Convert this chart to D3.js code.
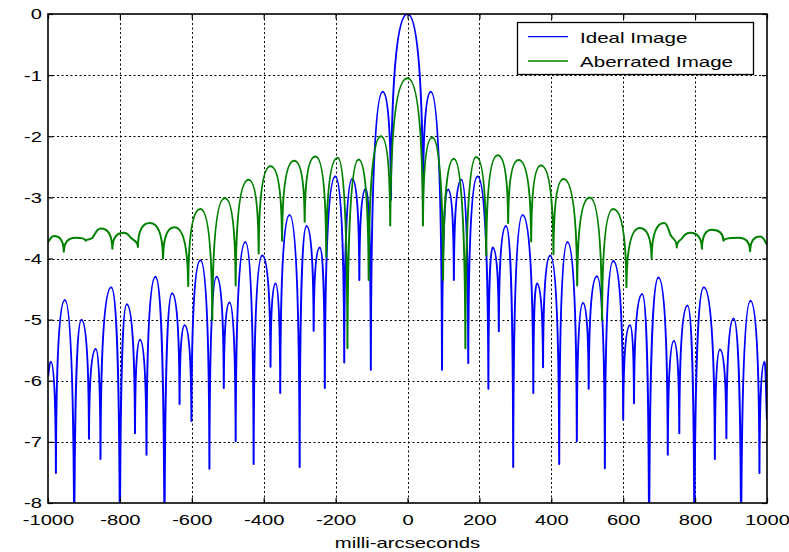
<!DOCTYPE html>
<html>
<head>
<meta charset="utf-8">
<script src="https://cdn.jsdelivr.net/npm/d3@7"></script>
<style>
  html, body { margin: 0; padding: 0; background: #fff; }
  svg { display: block; }
</style>
</head>
<body>
<script>
// ---------------- data ----------------
const ideal = [
  [-1000,-5.93],[-992,-5.69],[-978,-7.51],[-953,-4.68],[-927,-9],[-907,-5.0],[-886,-6.95],[-867,-5.48],
  [-854,-7.28],[-824,-4.47],[-800,-9],[-781,-4.75],[-758,-6.86],[-744,-5.33],[-726,-7.21],[-701,-4.30],
  [-676,-9],[-655,-4.57],[-634,-6.38],[-620,-5.09],[-601,-6.66],[-576,-4.03],[-551,-7.44],[-531,-4.30],
  [-511,-6.12],[-495,-4.72],[-478,-6.99],[-451,-3.73],[-428,-7.36],[-404,-3.95],[-381,-5.77],[-367,-4.41],
  [-354,-6.2],[-328,-3.29],[-300,-7.41],[-281,-3.47],[-261,-5.18],[-244,-3.82],[-230,-6.12],[-201,-2.66],
  [-176,-5.70],[-154,-2.70],[-134,-4.35],[-116,-2.86],[-102,-5.82],[-69,-1.27],[-46,-3.04],[0,0],
  [43,-3.04],[65,-1.27],[96,-5.82],[113,-2.87],[129,-4.35],[150,-2.71],[169,-5.71],[195,-2.66],
  [225,-6.13],[237,-3.82],[254,-5.19],[274,-3.47],[294,-7.41],[320,-3.29],[350,-6.2],[360,-4.41],
  [377,-5.78],[397,-3.95],[422,-7.36],[445,-3.73],[471,-6.99],[488,-4.73],[504,-6.13],[527,-4.29],
  [549,-7.43],[572,-4.04],[600,-6.64],[619,-5.09],[630,-6.37],[653,-4.58],[672,-9],[698,-4.31],
  [724,-7.21],[741,-5.35],[756,-6.86],[779,-4.77],[798,-9],[824,-4.47],[855,-7.28],[869,-5.49],
  [887,-6.94],[907,-4.98],[928,-9],[954,-4.69],[979,-7.51],[993,-5.69],[1000,-6.64]
];
const aberrated = [
  [-1000,-3.73],[-983,-3.63],[-956,-3.89],[-923,-3.66],[-895,-3.71],[-878,-3.67],[-853,-3.51],[-821,-3.84],
  [-789,-3.58],[-768,-3.67],[-750,-3.81],[-717,-3.42],[-680,-4.0],[-648,-3.49],[-610,-4.45],[-576,-3.19],
  [-543,-5.01],[-508,-3.01],[-478,-4.44],[-442,-2.71],[-414,-3.92],[-381,-2.49],[-349,-3.71],[-315,-2.40],
  [-286,-3.40],[-256,-2.33],[-226,-3.97],[-194,-2.35],[-167,-5.47],[-136,-2.38],[-108,-4.35],[-74,-2.0],
  [-48,-3.46],[0,-1.05],[43,-3.46],[69,-2.02],[99,-4.35],[129,-2.37],[161,-5.47],[191,-2.34],
  [219,-3.95],[251,-2.31],[280,-3.42],[309,-2.39],[344,-3.72],[371,-2.48],[406,-3.93],[434,-2.70],
  [472,-4.44],[507,-3.0],[541,-5.01],[572,-3.19],[609,-4.47],[646,-3.50],[679,-4.0],[714,-3.42],
  [732,-3.62],[749,-3.82],[762,-3.68],[786,-3.58],[819,-3.84],[847,-3.53],[879,-3.71],[921,-3.66],
  [953,-3.88],[981,-3.64],[1000,-3.77]
];
const seriesNames = ["Ideal Image", "Aberrated Image"];
const xTicks = [-1000,-800,-600,-400,-200,0,200,400,600,800,1000];
const yTicks = [0,-1,-2,-3,-4,-5,-6,-7,-8];
const xLabel = "milli-arcseconds";

// ---------------- layout / style ----------------
const W = 789, H = 552;
const L = 48, R = 767, T = 14, B = 503;
const FONT = "'Liberation Sans', Arial, Helvetica, sans-serif";
const colors = ["#0000ff", "#008000"];

const svg = d3.select("body").append("svg").attr("width", W).attr("height", H);

const x = d3.scaleLinear().domain([-1000, 1000]).range([L, R]);
const y = d3.scaleLinear().domain([-8, 0]).range([B, T]);

// grid
const grid = svg.append("g").attr("stroke", "#000").attr("stroke-width", 1)
  .attr("stroke-dasharray", "2,2.5").attr("fill", "none");
grid.selectAll("line.gx").data(xTicks.slice(1, -1)).join("line")
  .attr("x1", d => Math.round(x(d)) + 0.5).attr("x2", d => Math.round(x(d)) + 0.5)
  .attr("y1", T).attr("y2", B);
grid.selectAll("line.gy").data(yTicks.slice(1, -1)).join("line")
  .attr("y1", d => Math.round(y(d)) + 0.5).attr("y2", d => Math.round(y(d)) + 0.5)
  .attr("x1", L).attr("x2", R);

// custom curve: rounded lobes at maxima, sharp cusps at minima
function LobeCurve(ctx) { this._context = ctx; }
LobeCurve.prototype = {
  areaStart() {}, areaEnd() {},
  lineStart() { this._p = []; },
  point(px, py) { this._p.push([+px, +py]); },
  lineEnd() {
    const p = this._p, n = p.length, c = this._context;
    if (!n) return;
    const A = 0.55, Bk = 0.03, C = 0.75;
    c.moveTo(p[0][0], p[0][1]);
    const kind = p.map((q, i) => {
      if (i === 0 || i === n - 1) return 0;
      const a = p[i - 1][1], b = p[i + 1][1];
      if (q[1] < a && q[1] < b) return 1;   // upper extremum (peak)
      if (q[1] > a && q[1] > b) return -1;  // lower extremum (null)
      return 0;
    });
    const slope = i => {
      const a = p[Math.max(i - 1, 0)], b = p[Math.min(i + 1, n - 1)];
      return (b[1] - a[1]) / (b[0] - a[0]);
    };
    for (let i = 0; i < n - 1; i++) {
      const [x0, y0] = p[i], [x1, y1] = p[i + 1];
      const dx = x1 - x0, dy = y1 - y0;
      let c1x, c1y, c2x, c2y;
      if (kind[i] === 1) { c1x = x0 + A * dx; c1y = y0; }
      else if (kind[i] === -1) { c1x = x0 + Bk * dx; c1y = y0 + C * dy; }
      else { const s = slope(i); c1x = x0 + dx / 3; c1y = y0 + s * dx / 3; }
      if (kind[i + 1] === 1) { c2x = x1 - A * dx; c2y = y1; }
      else if (kind[i + 1] === -1) { c2x = x1 - Bk * dx; c2y = y1 - C * dy; }
      else { const s = slope(i + 1); c2x = x1 - dx / 3; c2y = y1 - s * dx / 3; }
      c.bezierCurveTo(c1x, c1y, c2x, c2y, x1, y1);
    }
  }
};
const lobeCurve = ctx => new LobeCurve(ctx);

svg.append("clipPath").attr("id", "plotclip").append("rect")
  .attr("x", L).attr("y", T).attr("width", R - L).attr("height", B - T);

const line = d3.line().x(d => x(d[0])).y(d => y(d[1])).curve(lobeCurve);
const plot = svg.append("g").attr("clip-path", "url(#plotclip)");
[ideal, aberrated].forEach((s, i) => {
  plot.append("path").datum(s).attr("d", line)
    .attr("fill", "none").attr("stroke", colors[i]).attr("stroke-width", 2)
    .attr("stroke-linejoin", "round");
});

// axes
const fmt = d => String(d);
function styleAxis(g) {
  g.select(".domain").remove();
  g.selectAll(".tick line").attr("stroke", "#000").attr("stroke-width", 1.2);
  g.selectAll("text").attr("font-family", FONT).attr("font-size", 15.5).attr("fill", "#000");
}
const xb = svg.append("g").attr("transform", `translate(0,${B})`)
  .call(d3.axisBottom(x).tickValues(xTicks).tickSizeInner(-5).tickSizeOuter(0).tickPadding(11)
    .tickFormat(fmt));
styleAxis(xb);
xb.selectAll("text").attr("transform", "scale(1.3,1)");

const xt = svg.append("g").attr("transform", `translate(0,${T})`)
  .call(d3.axisTop(x).tickValues(xTicks).tickSizeInner(-5).tickSizeOuter(0).tickFormat(""));
styleAxis(xt);

const yl = svg.append("g").attr("transform", `translate(${L},0)`)
  .call(d3.axisLeft(y).tickValues(yTicks).tickSizeInner(-5).tickSizeOuter(0).tickFormat(fmt));
styleAxis(yl);
yl.selectAll("text").attr("x", 0).attr("transform", "translate(-6,0) scale(1.3,1)");

const yr = svg.append("g").attr("transform", `translate(${R},0)`)
  .call(d3.axisRight(y).tickValues(yTicks).tickSizeInner(-5).tickSizeOuter(0).tickFormat(""));
styleAxis(yr);

// frame
svg.append("rect").attr("x", L).attr("y", T).attr("width", R - L).attr("height", B - T)
  .attr("fill", "none").attr("stroke", "#000").attr("stroke-width", 1.6);

// x label
svg.append("text").attr("transform", `translate(${(L + R) / 2},548) scale(1.4,1)`)
  .attr("text-anchor", "middle").attr("font-family", FONT).attr("font-size", 14.5)
  .text(xLabel);

// legend
const lg = svg.append("g");
lg.append("rect").attr("x", 517.5).attr("y", 22.5).attr("width", 236).attr("height", 52)
  .attr("fill", "#fff").attr("stroke", "#000").attr("stroke-width", 1.3);
seriesNames.forEach((name, i) => {
  const ly = 36.7 + i * 24.3;
  lg.append("line").attr("x1", 528).attr("x2", 568).attr("y1", ly).attr("y2", ly)
    .attr("stroke", colors[i]).attr("stroke-width", 1.3);
  lg.append("text").attr("transform", `translate(580,${ly + 6}) scale(1.37,1)`)
    .attr("font-family", FONT).attr("font-size", 15).text(name);
});
</script>
</body>
</html>
